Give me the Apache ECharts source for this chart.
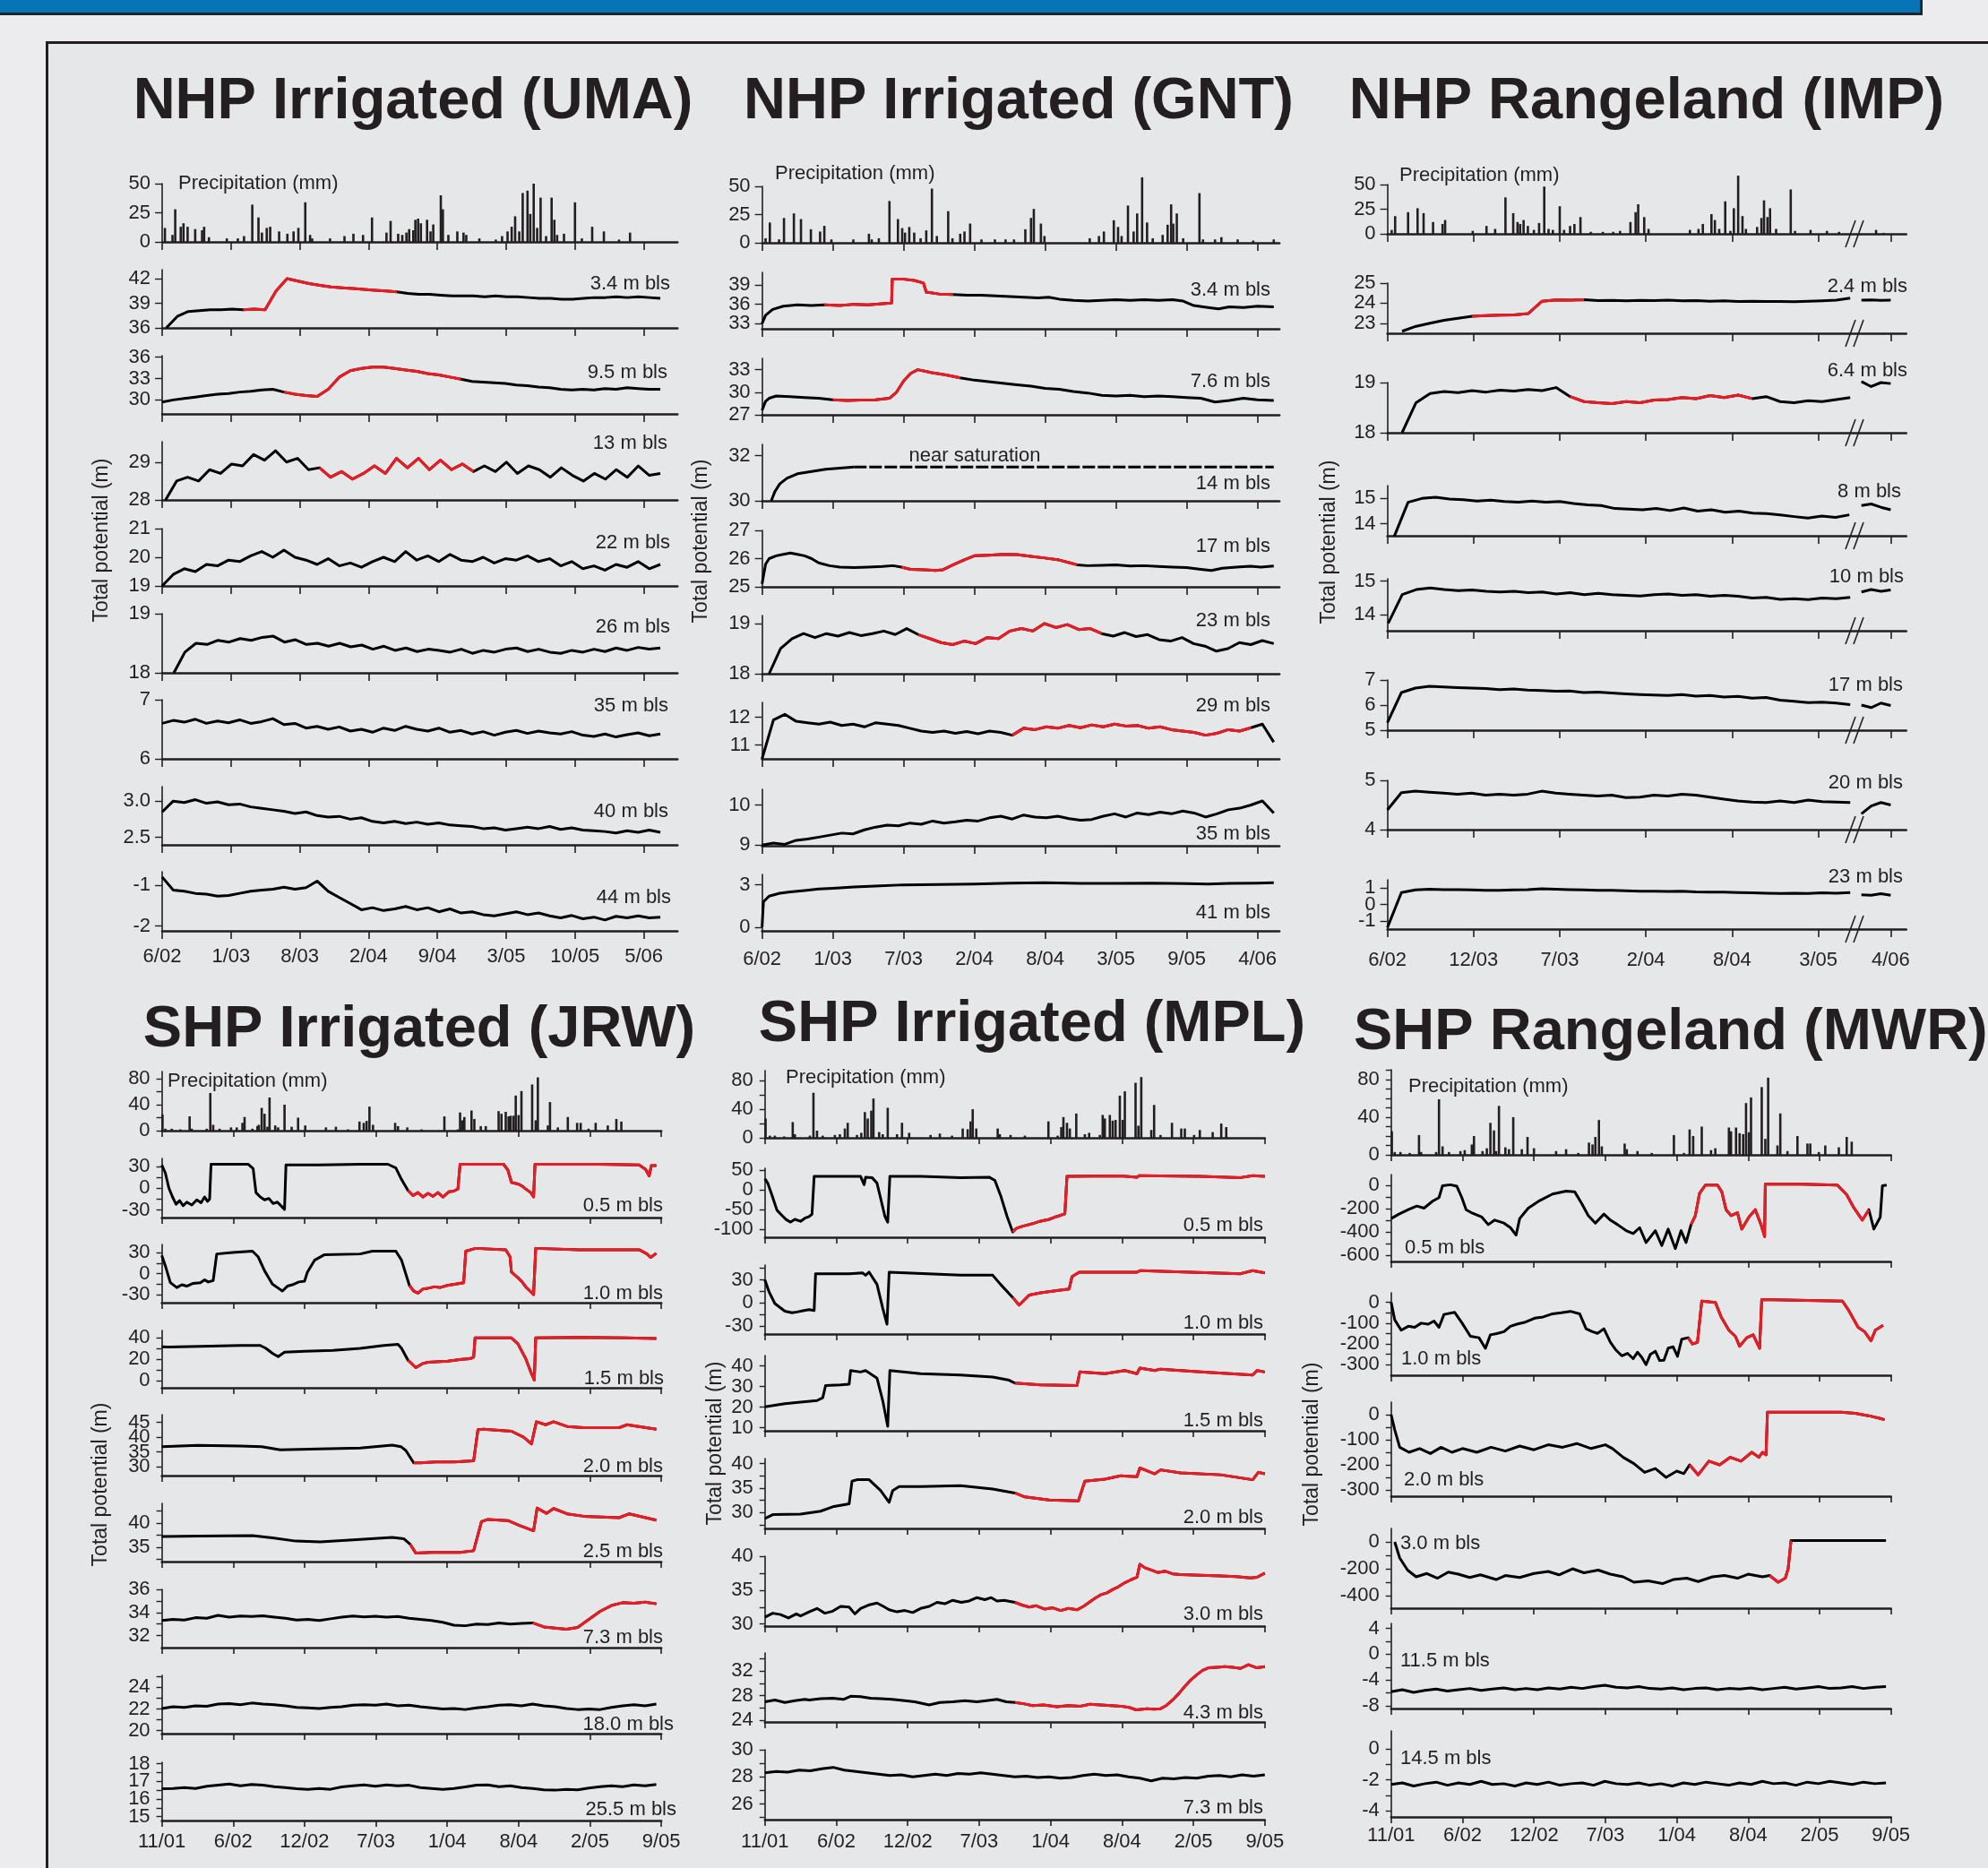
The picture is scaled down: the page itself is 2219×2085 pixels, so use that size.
<!DOCTYPE html>
<html>
<head>
<meta charset="utf-8">
<script src="https://cdn.jsdelivr.net/npm/echarts@6/dist/echarts.min.js"></script>
<style>html,body{margin:0;padding:0;background:#ececee}#c{width:2219px;height:2085px}</style>
</head>
<body>
<div id="c"></div>
<script>
// tick labels (x positions are in "tick steps" from the first tick)
var umaDates = ['6/02','1/03','8/03','2/04','9/04','3/05','10/05','5/06'];
var gntDates = ['6/02','1/03','7/03','2/04','8/04','3/05','9/05','4/06'];
var impDates = ['6/02','12/03','7/03','2/04','8/04','3/05','4/06'];
var impTicks = [0,1,2,3,4,5,5.84];
var shpDates = ['11/01','6/02','12/02','7/03','1/04','8/04','2/05','9/05'];
var stepTicks = [0,1,2,3,4,5,6,7];

// precipitation, [time, mm]
var umaRain = [[0.04,12],[0.15,6],[0.19,28],[0.27,13],[0.31,16],[0.37,13],[0.48,11],[0.58,10],[0.61,13],[0.68,4],[0.94,3],[1.1,3],[1.19,5],[1.31,32],[1.4,21],[1.45,8],[1.52,12],[1.57,13],[1.7,9],[1.82,7],[1.91,9],[1.98,12],[2.08,34],[2.15,6],[2.18,3],[2.44,3],[2.65,5],[2.78,7],[2.92,6],[3.05,21],[3.26,8],[3.32,18],[3.43,7],[3.49,6],[3.55,8],[3.59,11],[3.65,10],[3.68,19],[3.72,20],[3.76,16],[3.85,19],[3.9,9],[3.94,15],[4.05,40],[4.08,28],[4.16,6],[4.29,9],[4.38,8],[4.42,6],[4.61,3],[4.85,2],[4.94,5],[5.02,9],[5.08,13],[5.13,22],[5.19,9],[5.24,42],[5.31,44],[5.35,24],[5.4,50],[5.45,12],[5.5,38],[5.58,5],[5.66,38],[5.7,19],[5.74,6],[5.84,7],[6.0,34],[6.1,3],[6.25,13],[6.42,9],[6.64,2],[6.8,8]];
var gntRain = [[0.05,4],[0.11,18],[0.24,3],[0.31,22],[0.45,26],[0.55,21],[0.69,12],[0.82,10],[0.88,15],[0.98,3],[1.29,3],[1.51,8],[1.55,3],[1.65,4],[1.8,37],[1.92,21],[1.98,13],[2.02,9],[2.08,14],[2.15,9],[2.24,4],[2.32,11],[2.4,48],[2.47,6],[2.63,28],[2.69,4],[2.8,8],[2.86,10],[2.94,17],[3.1,3],[3.29,3],[3.44,3],[3.56,3],[3.72,12],[3.8,22],[3.84,30],[3.94,17],[3.99,6],[4.63,4],[4.76,6],[4.83,10],[4.97,20],[5.03,14],[5.08,6],[5.17,33],[5.25,10],[5.3,26],[5.37,58],[5.44,18],[5.52,4],[5.66,7],[5.73,16],[5.78,34],[5.81,17],[5.86,26],[5.95,4],[6.18,44],[6.23,3],[6.4,3],[6.49,5],[6.72,3],[6.94,2],[7.23,3]];
var impRain = [[0.05,4],[0.09,18],[0.24,22],[0.35,26],[0.42,21],[0.53,12],[0.64,10],[0.67,14],[0.99,3],[1.15,8],[1.25,5],[1.37,37],[1.46,21],[1.51,12],[1.54,10],[1.58,14],[1.63,8],[1.7,4],[1.76,11],[1.82,48],[1.87,5],[1.92,4],[2.0,28],[2.05,4],[2.12,8],[2.17,10],[2.24,17],[2.36,2],[2.5,2],[2.62,2],[2.7,3],[2.82,12],[2.88,22],[2.91,30],[2.98,17],[3.03,5],[3.51,4],[3.61,5],[3.66,10],[3.76,20],[3.8,14],[3.85,5],[3.92,33],[3.98,3],[4.02,26],[4.07,59],[4.12,18],[4.16,5],[4.29,7],[4.34,16],[4.37,34],[4.41,17],[4.44,26],[4.51,5],[4.68,45],[4.73,3],[4.91,4],[5.1,3],[5.24,2],[5.67,4],[5.76,1]];
var jrwRain = [[0.01,25],[0.05,3],[0.14,3],[0.26,2],[0.39,22],[0.42,3],[0.63,3],[0.68,58],[0.72,9],[0.81,3],[0.97,5],[1.05,5],[1.13,12],[1.16,21],[1.27,3],[1.34,7],[1.36,9],[1.4,35],[1.44,26],[1.48,6],[1.51,51],[1.59,8],[1.63,5],[1.72,40],[1.82,6],[1.91,20],[2.01,8],[2.3,5],[2.44,6],[2.61,2],[2.77,14],[2.83,12],[2.87,15],[2.91,37],[2.96,9],[3.27,12],[3.31,7],[3.44,5],[3.64,2],[3.96,22],[4.15,2],[4.18,28],[4.21,16],[4.24,21],[4.34,31],[4.38,18],[4.47,7],[4.54,7],[4.72,30],[4.76,26],[4.82,29],[4.86,22],[4.89,23],[4.93,23],[4.96,54],[5.0,24],[5.04,61],[5.19,71],[5.24,16],[5.27,82],[5.41,8],[5.44,44],[5.55,5],[5.69,21],[5.82,12],[5.87,12],[5.98,3],[6.08,12],[6.25,8],[6.37,18],[6.44,14]];
var mplRain = [[0.01,27],[0.07,3],[0.14,3],[0.27,2],[0.39,22],[0.42,5],[0.63,3],[0.68,63],[0.73,10],[0.81,3],[0.98,4],[1.05,5],[1.12,13],[1.16,21],[1.29,4],[1.35,7],[1.4,36],[1.44,27],[1.49,38],[1.52,55],[1.6,8],[1.65,5],[1.72,42],[1.85,5],[1.92,21],[2.02,7],[2.32,4],[2.45,6],[2.62,3],[2.77,13],[2.84,12],[2.88,23],[2.91,40],[2.96,13],[3.26,13],[3.29,5],[3.44,4],[3.64,3],[3.97,23],[4.1,3],[4.15,15],[4.18,29],[4.23,21],[4.27,13],[4.36,34],[4.48,5],[4.54,7],[4.69,4],[4.73,32],[4.76,27],[4.83,32],[4.87,24],[4.91,25],[4.97,59],[5.01,25],[5.04,65],[5.19,77],[5.23,17],[5.27,85],[5.41,11],[5.45,46],[5.54,4],[5.7,21],[5.83,13],[5.88,13],[6.01,4],[6.09,11],[6.27,8],[6.39,20],[6.46,15]];
var mwrRain = [[0.01,25],[0.05,3],[0.13,3],[0.26,2],[0.39,21],[0.42,3],[0.63,3],[0.67,59],[0.72,9],[0.81,3],[0.97,4],[1.03,5],[1.13,11],[1.16,20],[1.28,4],[1.34,7],[1.39,34],[1.44,26],[1.47,4],[1.51,52],[1.6,8],[1.65,6],[1.71,40],[1.83,6],[1.91,19],[2.0,7],[2.31,4],[2.45,6],[2.62,2],[2.77,13],[2.82,11],[2.86,19],[2.91,37],[2.95,9],[3.27,12],[3.3,6],[3.45,4],[3.65,2],[3.96,21],[4.1,2],[4.18,27],[4.23,20],[4.35,30],[4.48,5],[4.54,7],[4.73,29],[4.76,25],[4.83,29],[4.88,23],[4.93,22],[4.97,55],[5.01,24],[5.04,61],[5.19,72],[5.24,17],[5.28,82],[5.41,10],[5.45,44],[5.55,4],[5.69,20],[5.83,12],[5.87,12],[5.99,3],[6.08,10],[6.27,8],[6.38,19],[6.45,14]];

// NHP Irrigated (UMA), evenly sampled readings
var uma34 = [36.0,37.4,38.0,38.1,38.2,38.2,38.3,38.2,38.3,38.2,40.5,42.0,41.7,41.4,41.2,41.0,40.9,40.8,40.7,40.6,40.5,40.4,40.2,40.1,40.1,40.0,39.9,39.9,39.9,39.8,39.9,39.8,39.8,39.7,39.6,39.6,39.5,39.5,39.6,39.7,39.7,39.8,39.7,39.8,39.7,39.6];
var uma95 = [29.7,30.0,30.2,30.4,30.6,30.8,30.9,31.1,31.2,31.4,31.5,31.1,30.8,30.6,30.5,31.5,33.2,34.1,34.4,34.6,34.6,34.4,34.2,34.0,33.7,33.5,33.2,32.9,32.6,32.5,32.4,32.3,32.1,32.0,31.8,31.7,31.5,31.4,31.5,31.4,31.6,31.5,31.7,31.6,31.5,31.5];
var uma13 = [28.0,28.5,28.6,28.5,28.8,28.7,28.95,28.9,29.2,29.05,29.3,29.0,29.1,28.8,28.85,28.6,28.75,28.55,28.7,28.9,28.7,29.1,28.85,29.1,28.8,29.05,28.8,28.95,28.75,28.9,28.75,29.0,28.7,28.9,28.8,28.6,28.85,28.65,28.5,28.7,28.55,28.8,28.6,28.9,28.65,28.7];
var uma22 = [19.0,19.4,19.6,19.5,19.75,19.7,19.9,19.85,20.05,20.2,20.0,20.25,20.0,19.9,19.75,19.95,19.7,19.8,19.65,19.85,20.0,19.85,20.2,19.9,20.05,19.85,20.1,19.9,19.85,20.0,19.8,19.95,19.9,20.05,19.85,19.95,19.7,19.85,19.6,19.7,19.55,19.75,19.65,19.85,19.6,19.75];
var uma26 = [18.0,18.35,18.5,18.48,18.55,18.52,18.58,18.55,18.6,18.62,18.52,18.56,18.48,18.5,18.45,18.5,18.44,18.47,18.4,18.45,18.38,18.42,18.36,18.4,18.38,18.35,18.4,18.33,18.38,18.35,18.4,18.42,18.36,18.4,18.35,18.33,18.38,18.35,18.4,18.36,18.42,18.38,18.43,18.4,18.42];
var uma35 = [6.6,6.65,6.62,6.67,6.6,6.64,6.61,6.66,6.6,6.63,6.68,6.58,6.6,6.52,6.55,6.5,6.54,6.47,6.5,6.45,6.52,6.48,6.55,6.5,6.47,6.52,6.45,6.48,6.42,6.46,6.4,6.45,6.48,6.43,6.47,6.44,6.42,6.46,6.4,6.38,6.42,6.37,6.41,6.44,6.39,6.42];
var uma40 = [2.85,3.0,2.98,3.02,2.97,2.99,2.95,2.96,2.92,2.9,2.88,2.86,2.83,2.85,2.8,2.78,2.79,2.75,2.77,2.72,2.7,2.72,2.69,2.71,2.68,2.7,2.67,2.66,2.65,2.62,2.63,2.6,2.62,2.64,2.62,2.65,2.61,2.63,2.6,2.59,2.58,2.56,2.59,2.57,2.6,2.57];
var uma44 = [-0.8,-1.12,-1.15,-1.2,-1.22,-1.27,-1.25,-1.2,-1.15,-1.12,-1.1,-1.05,-1.1,-1.06,-0.9,-1.15,-1.3,-1.45,-1.6,-1.55,-1.62,-1.58,-1.52,-1.6,-1.55,-1.65,-1.58,-1.68,-1.65,-1.72,-1.75,-1.7,-1.65,-1.72,-1.68,-1.75,-1.8,-1.74,-1.82,-1.78,-1.85,-1.76,-1.8,-1.75,-1.8,-1.78];

// NHP Irrigated (GNT)
var gnt34 = [[0,33.0],[0.05,34.3],[0.15,35.2],[0.3,35.7],[0.5,35.9],[0.7,35.8],[0.88,35.9],[1.1,35.8],[1.3,36.0],[1.5,35.9],[1.7,36.1],[1.83,36.2],[1.84,39.9],[2.0,39.9],[2.15,39.7],[2.28,39.3],[2.32,37.9],[2.5,37.6],[2.7,37.5],[2.9,37.4],[3.1,37.4],[3.3,37.3],[3.5,37.2],[3.7,37.1],[3.9,37.0],[4.05,37.1],[4.2,36.8],[4.4,36.6],[4.6,36.5],[4.8,36.6],[5.0,36.7],[5.2,36.6],[5.4,36.7],[5.6,36.6],[5.8,36.7],[5.95,36.5],[6.1,35.8],[6.3,35.5],[6.45,35.3],[6.6,35.6],[6.8,35.5],[7.0,35.7],[7.23,35.6]];
var gnt76 = [[0,27.6],[0.05,28.8],[0.1,29.2],[0.2,29.5],[0.4,29.4],[0.6,29.3],[0.8,29.2],[1.0,29.0],[1.2,28.9],[1.4,28.95],[1.6,29.0],[1.8,29.2],[1.9,30.0],[2.0,31.5],[2.1,32.5],[2.2,33.0],[2.4,32.6],[2.6,32.3],[2.8,31.9],[3.0,31.6],[3.2,31.4],[3.4,31.2],[3.6,31.0],[3.8,30.8],[4.0,30.5],[4.2,30.4],[4.4,30.1],[4.6,29.9],[4.8,29.6],[5.0,29.5],[5.2,29.6],[5.4,29.4],[5.6,29.5],[5.8,29.4],[6.0,29.3],[6.2,29.2],[6.4,28.7],[6.6,28.9],[6.8,29.2],[7.0,29.0],[7.23,28.9]];
var gnt14 = [[0.13,30.0],[0.18,30.4],[0.25,30.75],[0.35,31.0],[0.5,31.2],[0.7,31.3],[0.9,31.4],[1.1,31.45],[1.3,31.5],[2.0,31.5],[3.0,31.5],[4.0,31.5],[5.0,31.5],[6.0,31.5],[7.23,31.5]];
var gnt17 = [[0,25.1],[0.05,25.8],[0.1,26.0],[0.2,26.1],[0.3,26.15],[0.4,26.2],[0.5,26.15],[0.6,26.1],[0.7,26.0],[0.8,25.85],[0.95,25.75],[1.1,25.7],[1.3,25.68],[1.5,25.7],[1.7,25.72],[1.85,25.75],[1.97,25.7],[2.1,25.62],[2.3,25.6],[2.45,25.58],[2.55,25.6],[2.7,25.78],[2.85,25.95],[3.0,26.1],[3.2,26.12],[3.4,26.15],[3.6,26.14],[3.8,26.08],[4.0,26.02],[4.2,25.95],[4.35,25.85],[4.45,25.78],[4.6,25.75],[4.8,25.76],[5.0,25.78],[5.2,25.74],[5.4,25.75],[5.6,25.72],[5.8,25.7],[6.0,25.68],[6.2,25.62],[6.35,25.58],[6.5,25.66],[6.7,25.7],[6.9,25.73],[7.05,25.7],[7.23,25.74]];
var gnt23 = [18.0,18.5,18.7,18.8,18.72,18.8,18.75,18.82,18.76,18.8,18.85,18.78,18.9,18.78,18.7,18.62,18.58,18.65,18.6,18.72,18.7,18.85,18.9,18.85,19.0,18.92,18.98,18.88,18.9,18.8,18.75,18.82,18.74,18.78,18.68,18.65,18.72,18.6,18.55,18.45,18.5,18.62,18.58,18.66,18.6];
var gnt29 = [10.5,11.9,12.1,11.85,11.8,11.75,11.82,11.7,11.75,11.65,11.8,11.75,11.7,11.6,11.5,11.45,11.5,11.42,11.48,11.4,11.5,11.45,11.35,11.6,11.55,11.65,11.6,11.7,11.62,11.72,11.65,11.75,11.68,11.7,11.6,11.65,11.55,11.5,11.45,11.35,11.42,11.55,11.5,11.62,11.75,11.1];
var gnt35 = [9.0,9.05,9.02,9.12,9.15,9.2,9.25,9.3,9.28,9.38,9.45,9.5,9.48,9.55,9.52,9.6,9.55,9.58,9.62,9.6,9.68,9.72,9.65,9.75,9.7,9.68,9.72,9.66,9.62,9.64,9.72,9.78,9.7,9.8,9.76,9.82,9.78,9.85,9.8,9.7,9.78,9.88,9.92,10.0,10.1,9.8];
var gnt41 = [[0,0],[0.02,1.8],[0.1,2.2],[0.25,2.4],[0.4,2.5],[0.6,2.6],[0.8,2.7],[1.0,2.75],[1.3,2.85],[1.6,2.92],[2.0,3.0],[2.5,3.02],[3.0,3.06],[3.5,3.12],[4.0,3.15],[4.5,3.1],[5.0,3.1],[5.5,3.12],[6.0,3.08],[6.3,3.05],[6.6,3.1],[7.0,3.12],[7.23,3.15]];

// NHP Rangeland (IMP): record before (a) and after (b) the break
var imp24a = [22.6,22.85,23.0,23.15,23.25,23.35,23.38,23.4,23.42,23.48,24.1,24.16,24.15,24.17,24.13,24.14,24.12,24.14,24.13,24.15,24.12,24.13,24.1,24.12,24.08,24.1,24.08,24.09,24.07,24.1,24.12,24.15,24.25];
var imp24b = [24.15,24.16,24.14,24.15];
var imp64a = [18.0,18.6,18.78,18.82,18.8,18.84,18.81,18.85,18.83,18.86,18.84,18.9,18.72,18.62,18.6,18.58,18.62,18.6,18.65,18.66,18.7,18.68,18.74,18.7,18.75,18.68,18.72,18.62,18.6,18.64,18.62,18.66,18.7];
var imp64b = [19.02,18.92,19.0,18.98];
var imp8a = [13.5,14.85,15.0,15.05,14.98,14.95,14.9,14.93,14.88,14.85,14.9,14.85,14.88,14.8,14.75,14.72,14.6,14.58,14.55,14.6,14.52,14.62,14.5,14.55,14.45,14.5,14.42,14.4,14.35,14.28,14.22,14.3,14.25,14.35];
var imp8b = [14.72,14.78,14.65,14.55];
var imp10a = [13.75,14.6,14.75,14.8,14.75,14.72,14.74,14.7,14.68,14.7,14.66,14.68,14.62,14.66,14.6,14.64,14.6,14.58,14.56,14.6,14.62,14.58,14.6,14.55,14.58,14.55,14.5,14.52,14.46,14.48,14.45,14.5,14.48,14.52];
var imp10b = [14.68,14.75,14.7,14.74];
var imp17a = [5.3,6.5,6.68,6.75,6.72,6.7,6.68,6.66,6.62,6.64,6.6,6.58,6.55,6.56,6.5,6.52,6.48,6.45,6.42,6.4,6.38,6.42,6.36,6.38,6.32,6.35,6.28,6.3,6.2,6.15,6.1,6.12,6.08,6.02];
var imp17b = [6.0,5.9,6.08,5.98];
var imp20a = [4.4,4.75,4.78,4.76,4.74,4.72,4.74,4.7,4.72,4.7,4.72,4.78,4.74,4.72,4.7,4.68,4.7,4.65,4.66,4.7,4.68,4.72,4.7,4.66,4.62,4.58,4.56,4.55,4.58,4.55,4.6,4.57,4.56,4.55];
var imp20b = [4.32,4.48,4.55,4.5];
var imp23a = [-1.4,0.72,0.88,0.92,0.9,0.9,0.88,0.86,0.85,0.88,0.9,0.95,0.92,0.9,0.88,0.86,0.85,0.82,0.8,0.8,0.78,0.8,0.76,0.75,0.74,0.72,0.7,0.68,0.66,0.68,0.66,0.7,0.68,0.72];
var imp23b = [0.58,0.55,0.65,0.56];

// SHP Irrigated (JRW)
var jrw05 = [[0,32],[0.05,21],[0.1,0],[0.15,-12],[0.2,-22],[0.25,-17],[0.3,-24],[0.35,-19],[0.42,-23],[0.49,-16],[0.55,-20],[0.6,-12],[0.64,-18],[0.67,-15],[0.69,33],[1.0,33],[1.21,33],[1.28,27],[1.32,-6],[1.38,-12],[1.44,-16],[1.5,-14],[1.56,-21],[1.62,-19],[1.68,-25],[1.72,-29],[1.74,32],[2.2,32],[2.78,33],[3.17,33],[3.28,28],[3.36,12],[3.45,-3],[3.52,-10],[3.59,-6],[3.66,-12],[3.73,-7],[3.8,-11],[3.87,-6],[3.94,-12],[4.02,-5],[4.09,-4],[4.15,-1],[4.18,33],[4.79,33],[4.85,25],[4.9,8],[4.99,6],[5.05,3],[5.1,-1],[5.17,-6],[5.21,-12],[5.23,33],[6.13,33],[6.69,32],[6.78,26],[6.83,17],[6.86,31],[6.93,31]];
var jrw10 = [[0,26],[0.05,11],[0.12,-13],[0.21,-20],[0.28,-16],[0.35,-18],[0.44,-14],[0.54,-13],[0.6,-9],[0.65,-12],[0.72,-10],[0.77,28],[0.99,30],[1.27,32],[1.35,24],[1.44,4],[1.55,-15],[1.62,-20],[1.69,-25],[1.76,-18],[1.83,-16],[1.92,-12],[2.0,-11],[2.04,2],[2.14,19],[2.28,27],[2.78,28],[2.95,32],[3.28,32],[3.36,19],[3.47,-17],[3.53,-25],[3.59,-28],[3.66,-22],[3.73,-21],[3.82,-19],[3.9,-20],[4.0,-17],[4.12,-15],[4.23,-13],[4.26,32],[4.4,36],[4.82,34],[4.88,24],[4.9,2],[4.99,-6],[5.05,-12],[5.1,-19],[5.16,-25],[5.21,-30],[5.24,36],[5.85,34],[6.69,34],[6.8,28],[6.85,23],[6.93,29]];
var jrw15 = [[0,31.7],[0.1,31.5],[0.54,32.2],[1.1,33],[1.38,33],[1.46,30.3],[1.55,25.7],[1.63,22.6],[1.72,26.8],[2.0,27.6],[2.4,28.5],[2.78,30.3],[3.11,33],[3.31,34],[3.36,30.3],[3.45,19.3],[3.56,12.4],[3.65,16],[3.73,17.4],[3.9,18],[4.01,18.5],[4.2,20],[4.32,20.7],[4.37,22],[4.39,40],[4.9,40],[4.99,34.5],[5.1,20.7],[5.18,6.9],[5.22,0.8],[5.24,40],[5.85,40.5],[6.5,40],[6.93,39.4]];
var jrw20 = [[0,36.8],[0.5,37.2],[1.1,37],[1.4,36.8],[1.66,35.7],[2.2,36],[2.78,36.3],[3.23,37.3],[3.35,36.8],[3.42,35.5],[3.53,31.3],[3.62,31.3],[3.9,31.7],[4.1,31.6],[4.37,32],[4.43,42.5],[4.51,42.7],[4.9,42],[5.07,40],[5.18,37.7],[5.25,45.2],[5.38,44.2],[5.49,45.2],[5.68,43.6],[5.91,43.2],[6.41,43.2],[6.52,44.2],[6.93,42.7]];
var jrw25 = [[0,37.2],[0.54,37.3],[1.27,37.4],[1.55,36.9],[1.88,36.25],[2.22,36.1],[2.78,36.6],[3.23,37],[3.39,36.75],[3.48,35.6],[3.56,33.75],[3.78,33.9],[4.18,33.9],[4.37,34.25],[4.48,40.3],[4.57,40.75],[4.85,40.5],[5.01,39.5],[5.21,38.4],[5.26,43.1],[5.39,42],[5.49,43],[5.68,41.9],[5.91,41.4],[6.41,41.1],[6.55,41.9],[6.93,40.6]];
var jrw73 = [33.3,33.4,33.35,33.55,33.5,33.75,33.6,33.7,33.65,33.72,33.6,33.5,33.35,33.4,33.3,33.45,33.6,33.7,33.62,33.68,33.6,33.65,33.5,33.4,33.3,33.15,32.9,32.85,33.0,32.95,33.1,33.0,33.05,33.1,32.75,32.65,32.55,32.7,33.4,34.1,34.6,34.85,34.8,34.9,34.75];
var jrw18 = [22.05,22.2,22.15,22.3,22.25,22.45,22.5,22.4,22.55,22.45,22.4,22.3,22.15,22.1,22.05,22.15,22.2,22.35,22.4,22.35,22.45,22.3,22.35,22.2,22.1,22.0,22.05,21.95,22.1,22.2,22.35,22.4,22.3,22.45,22.3,22.2,22.05,21.95,22.0,21.95,22.15,22.3,22.4,22.3,22.45];
var jrw255 = [16.58,16.6,16.65,16.6,16.72,16.78,16.85,16.75,16.82,16.78,16.7,16.65,16.58,16.55,16.6,16.55,16.68,16.75,16.8,16.72,16.8,16.75,16.78,16.65,16.6,16.55,16.6,16.68,16.78,16.8,16.7,16.75,16.65,16.6,16.52,16.5,16.55,16.52,16.62,16.7,16.75,16.7,16.8,16.75,16.82];

// SHP Irrigated (MPL)
var mpl05 = [[0,28],[0.04,17],[0.1,-14],[0.17,-52],[0.25,-67],[0.3,-76],[0.36,-82],[0.42,-75],[0.5,-80],[0.56,-72],[0.62,-68],[0.66,-62],[0.68,-60],[0.69,34],[1.18,34],[1.34,34],[1.39,13],[1.41,32],[1.5,31],[1.57,17],[1.62,-21],[1.68,-67],[1.72,-82],[1.75,34],[2.18,34],[2.74,31],[3.14,32],[3.22,24],[3.3,-14],[3.39,-67],[3.47,-107],[3.52,-98],[3.58,-94],[3.66,-90],[3.75,-86],[3.85,-80],[3.98,-75],[4.05,-70],[4.12,-66],[4.2,-61],[4.23,34],[4.98,35],[5.21,32],[5.24,36],[6.1,34],[6.66,31],[6.83,36],[7.0,34]];
var mpl10 = [[0,30],[0.06,14],[0.14,-1],[0.28,-11],[0.38,-13],[0.45,-12],[0.55,-10],[0.62,-9],[0.69,-10],[0.71,38],[1.18,38],[1.2,40],[1.37,39],[1.41,36],[1.46,40],[1.57,24],[1.65,-7],[1.71,-28],[1.74,40],[2.74,36],[3.19,36],[3.3,24],[3.47,7],[3.56,-3],[3.7,10],[3.86,13],[4.09,16],[4.26,18],[4.3,34],[4.4,40],[5.21,40],[5.26,42],[6.66,38],[6.83,42],[7.0,39]];
var mpl15 = [[0,20.2],[0.28,21.7],[0.5,22.4],[0.73,23.2],[0.81,24.6],[0.85,30.5],[1.06,30.8],[1.18,31.2],[1.2,37.8],[1.34,37.1],[1.41,37.8],[1.57,34.1],[1.65,23.2],[1.72,10.7],[1.75,37.8],[2.18,36.3],[2.74,35.6],[3.19,34.6],[3.42,33.1],[3.5,31.7],[3.86,30.8],[4.37,30.5],[4.41,37.1],[4.76,36.3],[5.04,37.8],[5.21,36.3],[5.25,39],[5.46,37.8],[5.54,38.5],[6.1,37.1],[6.83,35.6],[6.89,37.8],[7.0,37.1]];
var mpl20 = [[0,28.8],[0.11,29.6],[0.5,29.7],[0.78,30.3],[0.95,31.2],[1.18,31.8],[1.22,36.4],[1.29,36.7],[1.46,36.7],[1.62,34.5],[1.74,32.1],[1.79,34.5],[1.88,35.3],[2.18,35.3],[2.74,35.5],[3.19,34.8],[3.5,34],[3.64,33.2],[3.98,32.6],[4.39,32.4],[4.48,36.4],[4.76,36.8],[4.98,37.5],[5.21,37.3],[5.25,39.1],[5.46,37.9],[5.54,38.7],[5.82,38.1],[6.38,37.7],[6.83,36.7],[6.91,38.2],[7.0,37.9]];
var mpl30 = [[0,31],[0.11,31.6],[0.22,31.4],[0.33,30.9],[0.44,31.5],[0.5,31.2],[0.62,31.8],[0.73,32.3],[0.84,31.6],[0.95,31.9],[1.06,32.6],[1.18,32.5],[1.26,31.5],[1.34,32.3],[1.45,32.8],[1.57,33.1],[1.66,32.6],[1.74,32.1],[1.85,31.8],[1.96,32],[2.07,31.7],[2.18,32.3],[2.3,32.6],[2.41,33.2],[2.52,33],[2.63,33.5],[2.75,33.2],[2.86,33.4],[2.97,33.9],[3.08,33.6],[3.17,33.9],[3.25,33.4],[3.35,33.5],[3.5,33.2],[3.6,32.8],[3.7,32.5],[3.8,32.7],[3.92,32.2],[4.03,32.4],[4.14,32],[4.25,32.3],[4.37,32.1],[4.46,32.6],[4.54,33.2],[4.62,33.8],[4.7,34.3],[4.79,34.6],[4.87,35.1],[4.95,35.5],[5.04,36.1],[5.12,36.5],[5.21,36.9],[5.25,38.8],[5.32,38.3],[5.4,38],[5.5,37.6],[5.6,37.8],[5.71,37.4],[5.82,37.3],[6.1,37.2],[6.38,37.1],[6.6,37.0],[6.8,36.8],[6.89,36.9],[7.0,37.5]];
var mpl43 = [[0,27],[0.14,27.3],[0.28,26.9],[0.42,27.2],[0.56,27.4],[0.62,27.3],[0.78,27.5],[0.95,27.6],[1.1,27.4],[1.2,27.9],[1.34,27.85],[1.48,27.6],[1.62,27.5],[1.78,27.4],[1.96,27.2],[2.1,27.0],[2.3,26.5],[2.45,26.9],[2.63,27],[2.8,27.2],[2.97,27],[3.1,27.2],[3.25,27.4],[3.38,27],[3.5,26.9],[3.62,26.7],[3.75,26.4],[3.9,26.5],[4.09,26.2],[4.25,26.4],[4.42,26.3],[4.55,26.6],[4.7,26.5],[4.85,26.4],[4.98,26.3],[5.1,26.1],[5.2,25.7],[5.35,25.9],[5.45,25.8],[5.54,25.9],[5.62,26.4],[5.71,27.3],[5.8,28.4],[5.88,29.5],[5.96,30.5],[6.05,31.4],[6.13,32.1],[6.21,32.5],[6.33,32.6],[6.44,32.7],[6.55,32.6],[6.66,32.4],[6.77,33],[6.89,32.5],[7.0,32.7]];
var mpl73 = [28.3,28.4,28.35,28.5,28.45,28.6,28.7,28.5,28.4,28.3,28.2,28.1,28.15,28.0,28.1,28.2,28.1,28.25,28.2,28.3,28.2,28.1,28.0,28.05,27.95,28.0,27.9,27.95,28.1,28.2,28.1,28.15,28.0,27.9,27.7,27.9,27.85,27.95,27.9,28.05,28.1,28.0,28.15,28.05,28.15];

// SHP Rangeland (MWR)
var mwr05 = [[0,-284],[0.11,-245],[0.24,-207],[0.36,-176],[0.46,-194],[0.58,-134],[0.67,-103],[0.72,0],[0.83,8],[0.92,-5],[0.99,-103],[1.05,-207],[1.14,-238],[1.27,-271],[1.36,-336],[1.45,-297],[1.58,-323],[1.67,-362],[1.75,-426],[1.8,-284],[1.92,-194],[2.08,-129],[2.26,-72],[2.45,-47],[2.57,-52],[2.67,-155],[2.76,-258],[2.86,-323],[2.98,-245],[3.07,-297],[3.17,-336],[3.29,-388],[3.39,-413],[3.48,-362],[3.57,-491],[3.7,-388],[3.79,-517],[3.88,-375],[3.98,-543],[4.06,-388],[4.13,-491],[4.2,-336],[4.26,-258],[4.32,-65],[4.4,5],[4.57,5],[4.63,-52],[4.69,-207],[4.76,-258],[4.85,-233],[4.91,-375],[5.01,-271],[5.1,-207],[5.18,-336],[5.23,-439],[5.24,13],[5.75,13],[6.25,5],[6.38,-78],[6.47,-181],[6.6,-297],[6.69,-207],[6.76,-375],[6.85,-271],[6.88,0],[6.94,5]];
var mwr10 = [[0,0],[0.05,-84],[0.14,-134],[0.24,-115],[0.33,-120],[0.42,-100],[0.52,-105],[0.6,-90],[0.67,-120],[0.74,-58],[0.89,-48],[0.99,-98],[1.11,-163],[1.23,-170],[1.32,-221],[1.39,-156],[1.48,-150],[1.58,-141],[1.67,-115],[1.76,-105],[1.88,-95],[2.01,-76],[2.13,-70],[2.26,-55],[2.38,-50],[2.51,-43],[2.64,-55],[2.73,-127],[2.81,-140],[2.89,-149],[2.98,-127],[3.07,-192],[3.15,-230],[3.23,-257],[3.31,-245],[3.39,-271],[3.45,-240],[3.51,-264],[3.57,-300],[3.63,-250],[3.7,-235],[3.76,-280],[3.82,-278],[3.88,-220],[3.95,-214],[4.01,-260],[4.07,-177],[4.16,-170],[4.22,-200],[4.29,-192],[4.35,6],[4.54,0],[4.62,-69],[4.73,-134],[4.82,-163],[4.88,-211],[4.98,-170],[5.07,-156],[5.16,-221],[5.19,14],[6.32,6],[6.41,-40],[6.54,-120],[6.63,-141],[6.72,-185],[6.78,-134],[6.89,-110]];
var mwr20 = [[0,0],[0.05,-60],[0.12,-130],[0.25,-150],[0.4,-135],[0.55,-155],[0.7,-130],[0.85,-150],[1.0,-135],[1.2,-150],[1.4,-130],[1.6,-145],[1.8,-125],[2.0,-140],[2.2,-120],[2.4,-130],[2.6,-115],[2.8,-135],[3.0,-120],[3.1,-135],[3.25,-170],[3.4,-195],[3.55,-230],[3.7,-215],[3.85,-250],[4.0,-225],[4.1,-235],[4.18,-200],[4.3,-240],[4.45,-185],[4.6,-200],[4.75,-170],[4.9,-185],[5.05,-150],[5.15,-170],[5.2,-150],[5.25,-160],[5.27,10],[6.3,10],[6.5,5],[6.7,-5],[6.85,-15],[6.91,-20]];
var mwr30 = [[0.05,0],[0.12,-120],[0.23,-210],[0.35,-260],[0.5,-235],[0.65,-270],[0.8,-225],[0.94,-240],[1.1,-265],[1.25,-245],[1.47,-280],[1.6,-250],[1.8,-265],[2.0,-235],[2.2,-220],[2.35,-245],[2.54,-200],[2.7,-230],[2.9,-210],[3.07,-240],[3.25,-260],[3.4,-300],[3.6,-290],[3.8,-310],[3.95,-280],[4.14,-270],[4.3,-295],[4.5,-260],[4.67,-250],[4.85,-270],[5.0,-240],[5.2,-260],[5.3,-250],[5.42,-300],[5.52,-270],[5.56,-200],[5.6,10],[6.0,10],[6.5,10],[6.93,10]];
var mwr115 = [-5.8,-5.5,-5.9,-5.6,-5.4,-5.7,-5.5,-5.3,-5.6,-5.4,-5.2,-5.5,-5.3,-5.5,-5.2,-5.4,-5.1,-5.3,-5.0,-4.8,-5.1,-5.2,-5.0,-5.3,-5.4,-5.2,-5.5,-5.3,-5.2,-5.5,-5.3,-5.4,-5.2,-5.5,-5.3,-5.1,-5.4,-5.2,-5.0,-5.3,-5.2,-5.0,-5.3,-5.1,-5.0];
var mwr145 = [-2.3,-2.2,-2.4,-2.25,-2.15,-2.35,-2.2,-2.3,-2.1,-2.3,-2.25,-2.4,-2.2,-2.3,-2.15,-2.35,-2.25,-2.2,-2.35,-2.1,-2.25,-2.3,-2.2,-2.35,-2.25,-2.4,-2.2,-2.3,-2.15,-2.25,-2.35,-2.2,-2.3,-2.1,-2.25,-2.2,-2.35,-2.15,-2.25,-2.1,-2.2,-2.3,-2.15,-2.25,-2.2];

var FONT = '"Liberation Sans", Arial, Helvetica, sans-serif';
var INK = '#231f20', RED = '#ed1c24';

// spread readings evenly over a time span
function even(x0, x1, v) {
  return v.map(function (y, i) { return [x0 + (x1 - x0) * i / (v.length - 1), y]; });
}
// join two records with a gap between them
function gap(a, b) {
  return a.concat([[(a[a.length - 1][0] + b[0][0]) / 2, null]], b);
}

var panels = [
  { title: 'NHP Irrigated (UMA)', tx: 461, ty: 114, left: 181, unit: 76.8, xMax: 7.49, ticks: stepTicks, dates: umaDates,
    labY: 1069, tick: 9, ytx: 114, yty: 603, rainTxt: [199, 205],
    rain: { t: 205, a: 270, min: 0, max: 50, ticks: [0, 25, 50], d: umaRain },
    rows: [
      { t: 301, a: 366, min: 36, max: 43.1, ticks: [36, 39, 42], txt: '3.4 m bls', lx: 748, ly: 317, d: even(0.06, 7.24, uma34), red: [1.13, 3.46] },
      { t: 397, a: 462, min: 28.04, max: 36.2, ticks: [30, 33, 36], txt: '9.5 m bls', lx: 745, ly: 416, d: even(0, 7.24, uma95), red: [1.68, 4.45] },
      { t: 493, a: 558, min: 28, max: 29.54, ticks: [28, 29], txt: '13 m bls', lx: 745, ly: 495, d: even(0.05, 7.24, uma13), red: [2.18, 4.63] },
      { t: 590, a: 654, min: 19, max: 21, ticks: [19, 20, 21], txt: '22 m bls', lx: 748, ly: 606, d: even(0, 7.24, uma22) },
      { t: 685, a: 751, min: 18, max: 19, ticks: [18, 19], txt: '26 m bls', lx: 748, ly: 700, d: even(0.17, 7.24, uma26) },
      { t: 781, a: 847, min: 6, max: 7, ticks: [6, 7], txt: '35 m bls', lx: 746, ly: 788, d: even(0, 7.24, uma35) },
      { t: 878, a: 943, min: 2.396, max: 3.2, ticks: [2.5, 3], dec: 1, txt: '40 m bls', lx: 746, ly: 906, d: even(0, 7.24, uma40) },
      { t: 973, a: 1039, min: -2.116, max: -0.672, ticks: [-2, -1], txt: '44 m bls', lx: 749, ly: 1002, d: even(0, 7.24, uma44) }
    ] },
  { title: 'NHP Irrigated (GNT)', tx: 1137, ty: 114, left: 850.6, unit: 79, xMax: 7.31, ticks: stepTicks, dates: gntDates,
    labY: 1072, tick: 9, ytx: 783, yty: 604, rainTxt: [865, 194],
    rain: { t: 208, a: 271, min: 0, max: 50, ticks: [0, 25, 50], d: gntRain },
    rows: [
      { t: 304, a: 367, min: 32.19, max: 40.96, ticks: [33, 36, 39], txt: '3.4 m bls', lx: 1418, ly: 324, d: gnt34, red: [0.88, 2.7] },
      { t: 400, a: 463, min: 27, max: 34.5, ticks: [27, 30, 33], txt: '7.6 m bls', lx: 1418, ly: 426, d: gnt76, red: [1.0, 2.87] },
      { t: 496, a: 559, min: 30, max: 32.5, ticks: [30, 32], txt: '14 m bls', lx: 1418, ly: 540, d: gnt14, dash: 1.3, note: ['near saturation', 1088, 509] },
      { t: 592, a: 655, min: 25, max: 27, ticks: [25, 26, 27], txt: '17 m bls', lx: 1418, ly: 610, d: gnt17, red: [1.97, 4.45] },
      { t: 687, a: 752, min: 18, max: 19.16, ticks: [18, 19], txt: '23 m bls', lx: 1418, ly: 693, d: even(0.1, 7.23, gnt23), red: [2.12, 4.9] },
      { t: 784, a: 847, min: 10.5, max: 12.53, ticks: [11, 12], txt: '29 m bls', lx: 1418, ly: 788, d: even(0, 7.23, gnt29), red: [3.5, 7.03] },
      { t: 881, a: 944, min: 8.985, max: 10.39, ticks: [9, 10], txt: '35 m bls', lx: 1418, ly: 931, d: even(0, 7.23, gnt35) },
      { t: 976, a: 1039, min: -0.27, max: 3.74, ticks: [0, 3], txt: '41 m bls', lx: 1418, ly: 1019, d: gnt41 }
    ] },
  { title: 'NHP Rangeland (IMP)', tx: 1838, ty: 114, left: 1548.6, unit: 96.2, xMax: 6.02, ticks: impTicks, dates: impDates,
    labY: 1073, tick: 9, ytx: 1484, yty: 605, rainTxt: [1562, 196], brk: 5.42,
    rain: { t: 206, a: 261, min: 0, max: 50, ticks: [0, 25, 50], d: impRain },
    rows: [
      { t: 316, a: 372, min: 22.5, max: 25, ticks: [23, 24, 25], txt: '2.4 m bls', lx: 2129, ly: 320, d: gap(even(0.17, 5.37, imp24a), even(5.5, 5.84, imp24b)), red: [0.96, 2.34] },
      { t: 427, a: 483, min: 18, max: 19, ticks: [18, 19], txt: '6.4 m bls', lx: 2129, ly: 414, d: gap(even(0.17, 5.37, imp64a), even(5.5, 5.84, imp64b)), red: [2.11, 4.3] },
      { t: 542, a: 598, min: 13.52, max: 15.51, ticks: [14, 15], txt: '8 m bls', lx: 2122, ly: 549, d: gap(even(0.08, 5.36, imp8a), even(5.5, 5.84, imp8b)) },
      { t: 646, a: 704, min: 13.53, max: 15.07, ticks: [14, 15], txt: '10 m bls', lx: 2125, ly: 644, d: gap(even(0.01, 5.37, imp10a), even(5.5, 5.84, imp10b)) },
      { t: 759, a: 815, min: 5, max: 7, ticks: [5, 6, 7], txt: '17 m bls', lx: 2124, ly: 765, d: gap(even(0, 5.37, imp17a), even(5.5, 5.84, imp17b)) },
      { t: 871, a: 926, min: 4, max: 5, ticks: [4, 5], txt: '20 m bls', lx: 2124, ly: 874, d: gap(even(0, 5.37, imp20a), even(5.5, 5.84, imp20b)) },
      { t: 982, a: 1037, min: -1.49, max: 1.49, ticks: [-1, 0, 1], txt: '23 m bls', lx: 2124, ly: 979, d: gap(even(0, 5.37, imp23a), even(5.5, 5.84, imp23b)) }
    ] },
  { title: 'SHP Irrigated (JRW)', tx: 468, ty: 1150, left: 180.6, unit: 79.65, xMax: 7, ticks: stepTicks, dates: shpDates,
    labY: 2057, tick: 7, ytx: 113, yty: 1657, rainTxt: [187, 1207],
    rain: { t: 1196, a: 1262, min: 0, max: 91, ticks: [0, 20, 40, 60, 80], labels: [0, 40, 80], d: jrwRain },
    rows: [
      { t: 1293, a: 1359, min: -40.3, max: 41, ticks: [-30, -15, 0, 15, 30], labels: [-30, 0, 30], txt: '0.5 m bls', lx: 740, ly: 1346, d: jrw05, red: [3.45, 7] },
      { t: 1389, a: 1454, min: -41.6, max: 41.6, ticks: [-30, -15, 0, 15, 30], labels: [-30, 0, 30], txt: '1.0 m bls', lx: 740, ly: 1444, d: jrw10, red: [3.47, 7] },
      { t: 1485, a: 1549, min: -6.3, max: 46.9, ticks: [0, 10, 20, 30, 40], labels: [0, 20, 40], txt: '1.5 m bls', lx: 741, ly: 1539, d: jrw15, red: [3.45, 7] },
      { t: 1579, a: 1647, min: 27, max: 47.6, ticks: [30, 35, 40, 45], txt: '2.0 m bls', lx: 740, ly: 1637, d: jrw20, red: [3.45, 7] },
      { t: 1678, a: 1743, min: 32, max: 44.07, ticks: [32.5, 35, 37.5, 40, 42.5], labels: [35, 40], txt: '2.5 m bls', lx: 740, ly: 1732, d: jrw25, red: [3.48, 7] },
      { t: 1774, a: 1839, min: 30.96, max: 36, ticks: [32, 33, 34, 35, 36], labels: [32, 34, 36], txt: '7.3 m bls', lx: 740, ly: 1828, d: even(0, 6.93, jrw73), red: [5.1, 7] },
      { t: 1870, a: 1935, min: 19.73, max: 25.1, ticks: [20, 21, 22, 23, 24, 25], labels: [20, 22, 24], txt: '18.0 m bls', lx: 752, ly: 1925, d: even(0, 6.93, jrw18) },
      { t: 1967, a: 2032, min: 14.78, max: 18.08, ticks: [15, 15.5, 16, 16.5, 17, 17.5, 18], labels: [15, 16, 17, 18], txt: '25.5 m bls', lx: 755, ly: 2020, d: even(0, 6.93, jrw255) }
    ] },
  { title: 'SHP Irrigated (MPL)', tx: 1152, ty: 1144, left: 853.75, unit: 79.72, xMax: 7, ticks: stepTicks, dates: shpDates,
    labY: 2057, tick: 7, ytx: 799, yty: 1611, rainTxt: [877, 1203],
    rain: { t: 1195, a: 1270, min: 0, max: 94, ticks: [0, 20, 40, 60, 80], labels: [0, 40, 80], d: mplRain },
    rows: [
      { t: 1304, a: 1381, min: -120.5, max: 54.6, ticks: [-100, -50, 0, 50], txt: '0.5 m bls', lx: 1410, ly: 1368, d: mpl05, red: [3.47, 7] },
      { t: 1412, a: 1489, min: -40.8, max: 49.3, ticks: [-30, -15, 0, 15, 30, 45], labels: [-30, 0, 30], txt: '1.0 m bls', lx: 1410, ly: 1477, d: mpl10, red: [3.47, 7] },
      { t: 1513, a: 1597, min: 8.5, max: 45.1, ticks: [10, 20, 30, 40], txt: '1.5 m bls', lx: 1410, ly: 1586, d: mpl15, red: [3.5, 7] },
      { t: 1628, a: 1706, min: 26.8, max: 41, ticks: [27.5, 30, 32.5, 35, 37.5, 40], labels: [30, 35, 40], txt: '2.0 m bls', lx: 1410, ly: 1694, d: mpl20, red: [3.5, 7] },
      { t: 1737, a: 1815, min: 29.7, max: 40, ticks: [30, 32.5, 35, 37.5, 40], labels: [30, 35, 40], txt: '3.0 m bls', lx: 1410, ly: 1802, d: mpl30, red: [3.5, 7] },
      { t: 1845, a: 1922, min: 23.75, max: 34.9, ticks: [24, 26, 28, 30, 32, 34], labels: [24, 28, 32], txt: '4.3 m bls', lx: 1410, ly: 1912, d: mpl43, red: [3.5, 7] },
      { t: 1953, a: 2031, min: 24.84, max: 30, ticks: [25, 26, 27, 28, 29, 30], labels: [26, 28, 30], txt: '7.3 m bls', lx: 1410, ly: 2018, d: even(0, 7, mpl73) }
    ] },
  { title: 'SHP Rangeland (MWR)', tx: 1511, ty: 1153, tAlign: 'left', left: 1552.8, unit: 79.7, xMax: 7, ticks: stepTicks, dates: shpDates,
    labY: 2050, tick: 7, ytx: 1465, yty: 1612, rainTxt: [1572, 1213],
    rain: { t: 1194, a: 1289, min: 0, max: 90.4, ticks: [0, 10, 20, 30, 40, 50, 60, 70, 80, 90], labels: [0, 40, 80], d: mwrRain },
    rows: [
      { t: 1311, a: 1408, min: -654, max: 96, ticks: [0, -100, -200, -300, -400, -500, -600], labels: [0, -200, -400, -600], txt: '0.5 m bls', lx: 1568, ly: 1393, al: 'left', d: mwr05, red: [4.2, 6.69] },
      { t: 1443, a: 1535, min: -350.6, max: 46, ticks: [0, -50, -100, -150, -200, -250, -300], labels: [0, -100, -200, -300], txt: '1.0 m bls', lx: 1564, ly: 1517, al: 'left', d: mwr10, red: [4.16, 7] },
      { t: 1565, a: 1670, min: -325, max: 50, ticks: [0, -50, -100, -150, -200, -250, -300], labels: [0, -100, -200, -300], txt: '2.0 m bls', lx: 1567, ly: 1652, al: 'left', d: mwr20, red: [4.18, 6.91] },
      { t: 1706, a: 1795, min: -493, max: 100, ticks: [0, -100, -200, -300, -400], labels: [0, -200, -400], txt: '3.0 m bls', lx: 1563, ly: 1723, al: 'left', d: mwr30, red: [5.3, 5.6] },
      { t: 1812, a: 1907, min: -8.4, max: 4.76, ticks: [4, 2, 0, -2, -4, -6, -8], labels: [4, 0, -4, -8], txt: '11.5 m bls', lx: 1563, ly: 1854, al: 'left', d: even(0, 6.93, mwr115) },
      { t: 1932, a: 2028, min: -4.4, max: 1.16, ticks: [0, -1, -2, -3, -4], labels: [0, -2, -4], txt: '14.5 m bls', lx: 1563, ly: 1963, al: 'left', d: even(0, 6.93, mwr145) }
    ] }
];

function txt(s, x, y, size, align, extra) {
  var o = { type: 'text', x: x, y: y, silent: true, z: 10,
    style: { text: s, font: size + 'px ' + FONT, fill: INK, align: align, textAlign: align, verticalAlign: 'middle', textVerticalAlign: 'middle' } };
  if (extra) for (var k in extra) o[k] = extra[k];
  return o;
}

var grids = [], xAxes = [], yAxes = [], series = [];
var gfx = [
  { type: 'rect', silent: true, z: -100, shape: { x: 52, y: 48, width: 2200, height: 2100 }, style: { fill: '#e6e7e9' } },
  { type: 'rect', silent: true, z: 5, shape: { x: 0, y: 0, width: 2144, height: 15 }, style: { fill: '#0873b5' } },
  { type: 'rect', silent: true, z: 5, shape: { x: 0, y: 14, width: 2146, height: 3 }, style: { fill: '#1c2733' } },
  { type: 'rect', silent: true, z: 5, shape: { x: 2143, y: 0, width: 3, height: 17 }, style: { fill: '#1c2733' } },
  { type: 'rect', silent: true, z: 5, shape: { x: 51, y: 46, width: 2200, height: 3 }, style: { fill: INK } },
  { type: 'rect', silent: true, z: 5, shape: { x: 51, y: 46, width: 3, height: 2100 }, style: { fill: INK } }
];

function lineSeries(gi, yi, data, color, extra) {
  var s = { type: 'line', xAxisIndex: gi, yAxisIndex: yi, data: data, showSymbol: false, symbol: 'none',
    connectNulls: false, clip: false, lineStyle: { color: color, width: 3, join: 'round' }, animation: false, silent: true };
  if (extra) for (var k in extra) s[k] = extra[k];
  return s;
}

function yLabelStyle(values, dec) {
  return { customValues: values, showMinLabel: true, showMaxLabel: true, hideOverlap: false,
    margin: 13, color: INK, fontSize: 22, fontFamily: FONT,
    formatter: function (v) { return v.toFixed(dec || 0); } };
}

panels.forEach(function (p) {
  gfx.push(txt(p.title, p.tx, p.ty, 'bold 65', p.tAlign || 'center'));
  gfx.push(txt('Precipitation (mm)', p.rainTxt[0], p.rainTxt[1], 22, 'left'));
  gfx.push(txt('Total potential (m)', p.ytx, p.yty, 23, 'center', { rotation: Math.PI / 2 }));
  var rows = [p.rain].concat(p.rows);
  rows.forEach(function (r, k) {
    var gi = grids.length;
    var last = k === rows.length - 1;
    grids.push({ left: p.left, top: r.t, width: p.xMax * p.unit, height: r.a - r.t, containLabel: false });
    xAxes.push({
      type: 'value', gridIndex: gi, min: 0, max: p.xMax,
      axisLine: { show: true, onZero: false, lineStyle: { color: INK, width: 2.5 } },
      axisTick: { show: true, customValues: p.ticks, length: p.tick, lineStyle: { color: INK, width: 1.6 } },
      axisLabel: { show: last, customValues: p.ticks, showMinLabel: true, showMaxLabel: true, hideOverlap: false,
        margin: p.labY - r.a - 12, color: INK, fontSize: 22, fontFamily: FONT,
        formatter: function (v) {
          for (var i = 0; i < p.ticks.length; i++) if (Math.abs(p.ticks[i] - v) < 1e-6) return p.dates[i];
          return '';
        } },
      splitLine: { show: false }
    });
    // tick labels sit close together, so alternate ones go on a second, line-less axis
    var labs = r.labels || r.ticks;
    var yi = yAxes.length;
    yAxes.push({
      type: 'value', gridIndex: gi, min: r.min, max: r.max,
      axisLine: { show: true, onZero: false, lineStyle: { color: INK, width: 1.6 } },
      axisTick: { show: true, customValues: r.ticks, length: p.tick - 1, lineStyle: { color: INK, width: 1.4 } },
      axisLabel: yLabelStyle(labs.filter(function (v, i) { return i % 2 === 0; }), r.dec),
      splitLine: { show: false }
    });
    if (labs.length > 1) {
      yAxes.push({
        type: 'value', gridIndex: gi, min: r.min, max: r.max, position: 'left', offset: 0,
        axisLine: { show: false, onZero: false }, axisTick: { show: false },
        axisLabel: yLabelStyle(labs.filter(function (v, i) { return i % 2 === 1; }), r.dec),
        splitLine: { show: false }
      });
    }
    if (k === 0) {
      series.push({ type: 'bar', xAxisIndex: gi, yAxisIndex: yi, data: r.d, barWidth: 2.6, clip: false,
        itemStyle: { color: INK }, animation: false, silent: true });
    } else {
      if (r.dash) {
        // the long flat stretch is drawn as a broken line in the source figure
        series.push(lineSeries(gi, yi, r.d.filter(function (q) { return q[0] <= r.dash; }), '#000'));
        series.push(lineSeries(gi, yi, r.d.filter(function (q) { return q[0] >= r.dash; }), '#000',
          { lineStyle: { color: '#000', width: 3, type: [14, 3] } }));
      } else {
        series.push(lineSeries(gi, yi, r.d, '#000'));
      }
      if (r.red) {
        series.push(lineSeries(gi, yi, r.d.filter(function (q) { return q[0] >= r.red[0] - 1e-9 && q[0] <= r.red[1] + 1e-9; }), RED, { z: 3 }));
      }
      gfx.push(txt(r.txt, r.lx, r.ly, 22, r.al || 'right'));
      if (r.note) gfx.push(txt(r.note[0], r.note[1], r.note[2], 22, 'center'));
    }
    if (p.brk) {
      var cx = p.left + p.brk * p.unit;
      [-9, 0].forEach(function (o) {
        gfx.push({ type: 'line', silent: true, z: 10, shape: { x1: cx + o - 1, y1: r.a + 15, x2: cx + o + 10, y2: r.a - 15 },
          style: { stroke: INK, lineWidth: 1.6 } });
      });
    }
  });
});

var chart = echarts.init(document.getElementById('c'), null, { renderer: 'canvas' });
chart.setOption({
  backgroundColor: '#ececee',
  animation: false,
  grid: grids,
  xAxis: xAxes,
  yAxis: yAxes,
  series: series,
  graphic: { elements: gfx }
});
</script>
</body>
</html>
